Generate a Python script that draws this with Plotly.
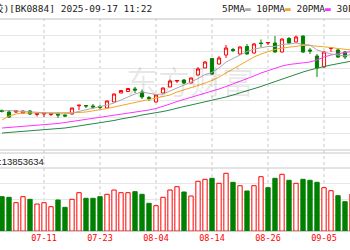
import plotly.graph_objects as go

dates = ["07-03","07-04","07-07","07-08","07-09","07-10","07-11","07-14","07-15","07-16",
         "07-17","07-18","07-21","07-22","07-23","07-24","07-25","07-28","07-29","07-30",
         "07-31","08-01","08-04","08-05","08-06","08-07","08-08","08-11","08-12","08-13",
         "08-14","08-15","08-18","08-19","08-20","08-21","08-22","08-25","08-26","08-27",
         "08-28","08-29","09-01","09-02","09-03","09-04","09-05","09-08","09-09","09-10",
         "09-11"]

opens  = [1039.5,1038,1038,1037,1039,1035.5,1036,1035.5,1036,1035,
          1036,1044.2,1044.5,1044,1043.5,1042,1048,1057,1058.5,1061,
          1058,1052.5,1048,1057,1063,1069,1070,1067,1075,1082,
          1091.5,1086,1095,1100.5,1096,1103.5,1097,1107,1107,1107,
          1098,1111.5,1108,1114,1100,1094,1083,1101.5,1100,1098,
          1092]
highs  = [1040.5,1040,1040,1039.5,1040,1036.5,1037,1037,1038,1036.5,
          1042.5,1045,1045,1046,1045,1049.5,1056.5,1060,1062,1063,
          1060.5,1054,1055.5,1062.5,1070.5,1070,1071,1072.5,1083,1089,
          1092,1094,1105,1102,1104,1106,1107,1110.5,1108,1114,
          1111.5,1113,1114.5,1114.5,1102,1096,1099,1103,1101,1099,
          1101]
lows   = [1037.5,1032,1037,1036.5,1035,1033.5,1033,1034,1032,1033,
          1035.5,1040,1042,1041,1041,1041.5,1048,1057,1058,1057,
          1051,1049,1047.5,1057,1063,1067,1066,1066.5,1074.5,1082,
          1075.5,1085.5,1092,1098,1095,1095.5,1096.5,1103,1105,1097.5,
          1097.5,1106,1107.5,1097,1096,1073,1082.5,1098,1092,1091,
          1091.5]
closes = [1038.5,1033,1039,1039,1036,1036.5,1037,1036.5,1035,1034,
          1042,1044.8,1044,1043,1042.5,1049,1056,1059.5,1061.5,1060,
          1053,1051.5,1055,1062,1069,1069.5,1067,1072,1081,1088,
          1076,1092,1102,1099.5,1103,1096,1106,1106.5,1107.5,1098,
          1111,1107,1113,1098,1099,1082,1098,1102.5,1093,1093,
          1100]

volume = [34.3,33.7,28.3,34.3,31.7,27,28.3,24.3,31,23.7,
          31.7,38.3,32.7,32.7,34.3,36.7,41,38.3,38.3,39.3,
          36.7,27.7,25.3,33.7,41,44.3,39,35,49.7,51.7,
          52.7,47.7,57.7,48.7,45.3,40,45.3,54.3,43.3,52.7,
          56.7,50.7,47.7,51.7,50.7,48.7,43.3,40.3,35.3,29.3,
          37]
vol_up = [0,0,1,1,0,1,1,1,0,0,
          1,1,0,0,0,1,1,1,1,0,
          0,0,1,1,1,1,0,1,1,1,
          0,1,1,0,1,0,1,1,0,0,
          1,0,1,0,0,0,1,1,0,0,
          1]

ma5  = [1039,1039.5,1039,1038.5,1038,1037.5,1037,1037,1036.5,1036,
        1037,1038.5,1040,1041.5,1043.5,1045,1047,1050,1053,1056,
        1058,1057,1055.5,1056,1059,1062,1064.5,1068,1071.5,1075.5,
        1077.5,1082,1088,1091.5,1094.5,1098.5,1101,1102.5,1103.5,1103.5,
        1105.5,1106,1107,1105.5,1105,1100,1098,1096,1095,1094,
        1096]
ma10 = [1030,1034,1036,1037,1037,1037,1037,1037,1037,1037,
        1037,1037.5,1038,1039,1040.5,1041.5,1043,1044.5,1046,1047.5,
        1049,1050,1051.5,1053,1055,1058,1060,1062,1064.5,1067,
        1069.5,1073,1077,1081,1085,1089,1093,1096,1098.5,1100.5,
        1102,1103,1104,1104.5,1104.5,1104,1103.5,1102.5,1101.5,1100.5,
        1100]
ma20 = [1022,1022.5,1023,1023.5,1024,1024.5,1025,1025.5,1026.5,1027.5,
        1028.5,1029.5,1030.5,1031.5,1033,1034,1035,1036,1037,1038,
        1039,1040,1041.5,1043.5,1046,1048.5,1050.5,1052.5,1054.5,1057,
        1059,1061,1063.5,1066,1068.5,1071,1074,1077,1079.5,1082,
        1084,1085.5,1086.5,1087,1088,1090,1093,1095,1096.5,1097.5,
        1098.5]
ma30 = [1017,1017.5,1018,1018.5,1019,1019.5,1020,1020.5,1021.5,1022,
        1023,1024,1025,1026,1027.5,1028.5,1029.5,1031,1032,1033.5,
        1035,1036,1037,1038.5,1040,1042,1043.5,1045,1046.5,1048,
        1049.5,1051,1053,1055,1057,1059,1061,1063.5,1066,1068.5,
        1071,1073.5,1076,1078,1080,1082,1083.5,1085,1086.5,1088,
        1089]

tick_labels = ["07-11", "07-23", "08-04", "08-14", "08-26", "09-05"]
title_text = "胶)[BK0884] 2025-09-17 11:22"
vol_text = ":13853634"

RED = "#ff0000"
GREEN = "#008000"
MA_COLORS = ["#aaaaaa", "#f5a623", "#ff33ff", "#238a45"]

fig = go.Figure()

fig.add_trace(go.Candlestick(
    x=dates, open=opens, high=highs, low=lows, close=closes,
    increasing=dict(line=dict(color=RED, width=1), fillcolor="#ffffff"),
    decreasing=dict(line=dict(color=GREEN, width=1), fillcolor=GREEN),
    whiskerwidth=0, xaxis="x", yaxis="y", showlegend=False, hoverinfo="skip"))

for ma, col in zip([ma30, ma20, ma10, ma5], MA_COLORS[::-1]):
    fig.add_trace(go.Scatter(x=dates, y=ma, mode="lines",
                             line=dict(color=col, width=1),
                             xaxis="x", yaxis="y", showlegend=False, hoverinfo="skip"))

fig.add_trace(go.Bar(
    x=dates, y=volume, width=0.62,
    marker=dict(color=["#ffffff" if u else GREEN for u in vol_up],
                line=dict(color=[RED if u else GREEN for u in vol_up], width=1)),
    xaxis="x2", yaxis="y2", showlegend=False, hoverinfo="skip"))

xr = [-0.286, 49.714]
K_TOP, K_BOT = 0.924, 0.4
V_TOP, V_BOT = 0.328, 0.076

shapes = []
for t in tick_labels:
    shapes.append(dict(type="line", xref="x", yref="paper", x0=t, x1=t,
                       y0=V_BOT, y1=K_TOP, layer="below",
                       line=dict(color="#c8c8c8", width=1, dash="3px,3px")))
for yy, c in [(K_TOP, "#c0c0c0"), (K_BOT, "#c8c8c8"), (0.388, "#c8c8c8"),
              (V_TOP, "#c8c8c8"), (V_BOT, "#999999")]:
    shapes.append(dict(type="line", xref="paper", yref="paper", x0=0, x1=1,
                       y0=yy, y1=yy, layer="below", line=dict(color=c, width=1)))

legend_html = ("5PMA<span style='color:#aaaaaa'>▬</span> "
               "10PMA<span style='color:#f5a623'>▬</span> "
               "20PMA<span style='color:#ff33ff'>▬</span> "
               "30PMA<span style='color:#238a45'>▬</span>")

annotations = [
    dict(text=title_text, xref="paper", yref="paper", x=154/350, y=1-8.5/250,
         xanchor="right", yanchor="middle", showarrow=False,
         font=dict(family="DejaVu Sans Mono, Noto Sans CJK SC", size=9.5, color="#222")),
    dict(text=legend_html, xref="paper", yref="paper", x=220/350, y=1-8.5/250,
         xanchor="left", yanchor="middle", showarrow=False,
         font=dict(family="DejaVu Sans Mono, Noto Sans CJK SC", size=9.5, color="#222")),
    dict(text=vol_text, xref="paper", yref="paper", x=0, y=1-161/250,
         xanchor="left", yanchor="middle", showarrow=False, xshift=-3,
         font=dict(family="Liberation Sans, Arial", size=9.5, color="#222")),
    dict(text="东方财富", xref="paper", yref="paper", x=190/350, y=1-80/250,
         xanchor="center", yanchor="middle", showarrow=False,
         font=dict(family="Noto Sans CJK SC", size=32, color="rgba(0,0,0,0.09)")),
]

fig.update_layout(
    width=350, height=250, margin=dict(l=0, r=0, t=0, b=0),
    paper_bgcolor="#ffffff", plot_bgcolor="#ffffff", showlegend=False,
    bargap=0.3, boxgap=0.35,
    xaxis=dict(domain=[0, 1], anchor="y", type="category", range=xr,
               showticklabels=False, showgrid=False, zeroline=False,
               rangeslider=dict(visible=False), fixedrange=True),
    xaxis2=dict(domain=[0, 1], anchor="y2", type="category", range=xr, matches="x",
                tickmode="array", tickvals=tick_labels, ticktext=tick_labels,
                showgrid=False, zeroline=False, ticks="", showline=False,
                tickfont=dict(family="DejaVu Sans Mono", size=8.5, color=RED)),
    yaxis=dict(domain=[K_BOT, K_TOP], range=[1000, 1131], tick0=1000, dtick=131/8,
               showgrid=True, gridcolor="#e6e6e6", gridwidth=1,
               showticklabels=False, zeroline=False),
    yaxis2=dict(domain=[V_BOT, V_TOP], range=[0, 63], tick0=0, dtick=15.75,
                showgrid=True, gridcolor="#e6e6e6", gridwidth=1,
                showticklabels=False, zeroline=False),
    shapes=shapes, annotations=annotations,
)

fig.write_html("out.html")
